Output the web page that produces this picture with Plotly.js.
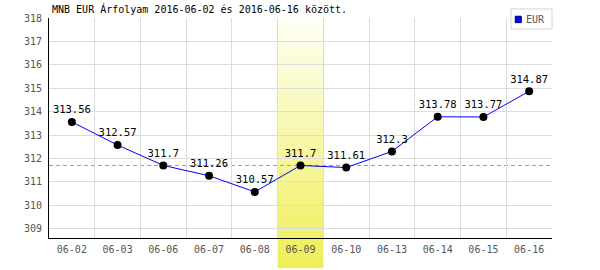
<!DOCTYPE html>
<html>
<head>
<meta charset="utf-8">
<script src="https://cdn.plot.ly/plotly-3.0.1.min.js"></script>
<style>html,body{margin:0;padding:0;background:#fff;}#chart{width:600px;height:270px;}</style>
</head>
<body>
<div id="chart"></div>
<script>
const dates = ['06-02','06-03','06-06','06-07','06-08','06-09','06-10','06-13','06-14','06-15','06-16'];
const values = [313.56,312.57,311.7,311.26,310.57,311.7,311.61,312.3,313.78,313.77,314.87];
const seriesName = 'EUR';
const highlightDate = '06-09';
const titleText = 'MNB EUR Árfolyam 2016-06-02 és 2016-06-16 között.';
const yTicks = [309,310,311,312,313,314,315,316,317,318];

const MONO = '"DejaVu Sans Mono", "Liberation Mono", monospace';
const hlIdx = dates.indexOf(highlightDate);
const refValue = values[hlIdx];

const shapes = [];
// gradient highlight column (strips)
const N = 60, hlTop = 1.0, hlBottom = -0.136;
const c0 = [255,255,246], c1 = [238,238,88];
for (let i = 0; i < N; i++) {
  const t = (i + 0.5) / N;
  const c = c0.map((v, k) => Math.round(v + (c1[k] - v) * t));
  shapes.push({
    type: 'rect', xref: 'x', yref: 'paper', layer: 'between',
    x0: hlIdx - 0.5, x1: hlIdx + 0.5,
    y0: hlTop - (hlTop - hlBottom) * i / N, y1: hlTop - (hlTop - hlBottom) * (i + 1) / N - 0.002,
    line: {width: 0}, fillcolor: `rgb(${c[0]},${c[1]},${c[2]})`
  });
}
// reference dashed line
shapes.push({
  type: 'line', xref: 'paper', yref: 'y', layer: 'between',
  x0: 0, x1: 1, y0: refValue, y1: refValue,
  line: {color: '#8c8cff', width: 1, dash: '4px,3px'}
});
// legend box
shapes.push({type: 'rect', xref: 'paper', yref: 'paper', x0: 0.9185, x1: 1.0, y0: 0.95, y1: 1.041,
  line: {color: '#d4d4d4', width: 1}, fillcolor: '#ffffff', layer: 'above'});
shapes.push({type: 'rect', xref: 'paper', yref: 'paper', x0: 0.927, x1: 0.939, y0: 0.979, y1: 1.008,
  line: {color: '#000066', width: 1}, fillcolor: '#0000ff', layer: 'above'});

const trace = {
  x: dates, y: values, type: 'scatter', mode: 'lines+markers+text',
  name: seriesName, showlegend: false,
  line: {color: '#0000ff', width: 1},
  marker: {color: '#000000', size: 8},
  text: values.map(String), textposition: 'top center',
  textfont: {family: MONO, size: 10.5, color: '#000000'},
  cliponaxis: false, hoverinfo: 'x+y'
};

const layout = {
  width: 600, height: 270,
  margin: {l: 49, r: 48, t: 18, b: 32},
  paper_bgcolor: '#ffffff', plot_bgcolor: '#ffffff',
  showlegend: false,
  title: {
    text: titleText, xref: 'paper', x: 0.006, xanchor: 'left',
    yref: 'container', y: 0.963, yanchor: 'middle',
    font: {family: MONO, size: 10, color: '#000000'}
  },
  xaxis: {
    type: 'category', range: [-0.5, dates.length - 0.5],
    tickson: 'boundaries', ticks: '', showgrid: true, gridcolor: '#dcdcdc', gridwidth: 1,
    showline: true, linecolor: '#000000', linewidth: 1, mirror: false,
    ticklabelstandoff: 2,
    tickfont: {family: MONO, size: 10, color: '#555555'}, fixedrange: true
  },
  yaxis: {
    range: [308.6, 318], tickvals: yTicks, ticktext: yTicks.map(String),
    ticks: '', showgrid: true, gridcolor: '#dcdcdc', gridwidth: 1, zeroline: false,
    showline: true, linecolor: '#000000', linewidth: 1,
    ticklabelstandoff: 4,
    tickfont: {family: MONO, size: 10, color: '#555555'}, fixedrange: true
  },
  shapes: shapes,
  annotations: [{
    xref: 'paper', yref: 'paper', x: 0.944, y: 0.994, xanchor: 'left', yanchor: 'middle',
    text: seriesName, showarrow: false, font: {family: MONO, size: 10, color: '#555555'}
  }]
};

Plotly.newPlot('chart', [trace], layout, {displayModeBar: false, staticPlot: true});
</script>
</body>
</html>
